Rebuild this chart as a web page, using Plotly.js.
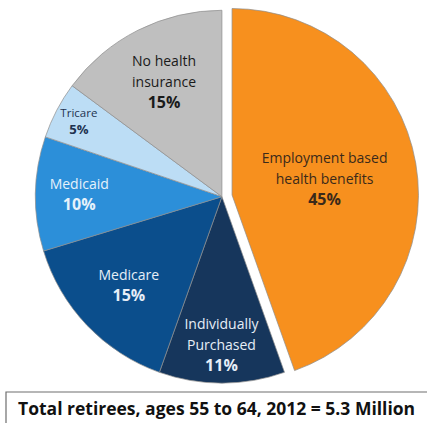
<!DOCTYPE html>
<html>
<head>
<meta charset="utf-8">
<script src="https://cdn.plot.ly/plotly-3.0.1.min.js"></script>
<style>html,body{margin:0;padding:0;background:#fff;}#chart{width:427px;height:423px;}</style>
</head>
<body>
<div id="chart"></div>
<script>
const categories = ["Employment based health benefits", "Individually Purchased", "Medicare", "Medicaid", "Tricare", "No health insurance"];
const displayLabels = ["Employment based<br>health benefits", "Individually<br>Purchased", "Medicare", "Medicaid", "Tricare", "No health<br>insurance"];
const shares = [45, 11, 15, 10, 5, 15];
const sliceColors = ["#F7901E", "#16365C", "#0B4E8C", "#2C8FD9", "#BCDDF5", "#BFBFBF"];
const labelColors = ["#3B2A1A", "#E6EEF7", "#E6EEF7", "#E6F2FB", "#1F3350", "#1A1A1A"];
const pulls = [0.055, 0, 0, 0, 0, 0];
const footnote = "Total retirees, ages 55 to 64, 2012 = 5.3 Million";

const trace = {
  type: "pie",
  labels: categories,
  values: shares,
  customdata: displayLabels,
  sort: false,
  direction: "clockwise",
  rotation: 0,
  pull: pulls,
  marker: {colors: sliceColors, line: {color: "#8C8C8C", width: 0.7}},
  textposition: "inside",
  insidetextorientation: "horizontal",
  texttemplate: "<span style=\"font-size:14px\">%{customdata}</span><br><b>%{value}%</b>",
  textfont: {family: "Open Sans, sans-serif", size: 16, color: labelColors},
  hoverinfo: "none",
  showlegend: false,
  domain: {x: [0.0585, 0.981], y: [0.07, 1.0]}
};

const layout = {
  width: 427, height: 423,
  margin: {l: 0, r: 0, t: 0, b: 0},
  paper_bgcolor: "#ffffff",
  showlegend: false,
  shapes: [{
    type: "rect", xref: "paper", yref: "paper",
    x0: 6/427, x1: 1.05, y0: -0.05, y1: (423-392)/423,
    line: {color: "#6E6E6E", width: 1.2}, fillcolor: "rgba(0,0,0,0)"
  }],
  annotations: [{
    xref: "paper", yref: "paper", x: 16/427, y: (423-408)/423,
    xanchor: "left", yanchor: "middle", showarrow: false,
    text: "<b>" + footnote + "</b>",
    font: {family: "Open Sans, sans-serif", size: 17.5, color: "#111111"}
  }]
};

Plotly.newPlot("chart", [trace], layout, {staticPlot: true, displayModeBar: false});
</script>
</body>
</html>
